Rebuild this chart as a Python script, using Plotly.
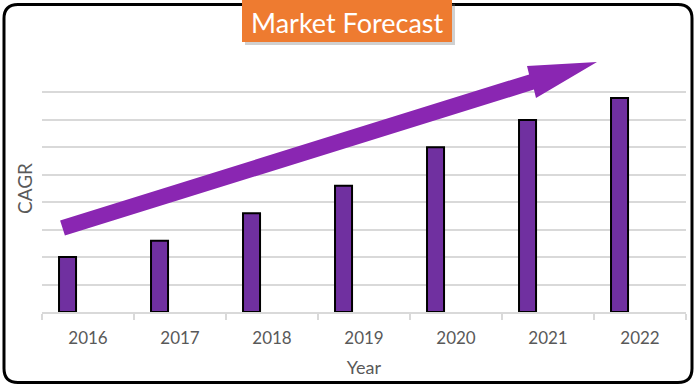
import plotly.graph_objects as go

years = ["2016", "2017", "2018", "2019", "2020", "2021", "2022"]
cagr = [2.0, 2.6, 3.6, 4.6, 6.0, 7.0, 7.8]

W, H = 697, 387
L, R, T, B = 42, 11, 65, 75
PW, PH = W - L - R, H - T - B


def px(x):
    return (x - L) / PW


def py(y):
    return (H - B - y) / PH


def path(points):
    return "M " + " L ".join(f"{px(x):.5f},{py(y):.5f}" for x, y in points) + " Z"


fig = go.Figure()
fig.add_trace(go.Bar(
    x=years, y=cagr,
    width=0.185, offset=-0.315,
    marker=dict(color="#7030A0", line=dict(color="#000000", width=2)),
    hoverinfo="x+y",
))

# arrow decoration (pixel geometry)
arrow_pts = [(60.1, 220.4), (529.1, 74.4), (527, 66), (597, 62),
             (536, 98), (533.9, 89.6), (64.9, 235.6)]

# rounded border
x0, y0, x1, y1, r = 4, 4.5, 692, 382.5, 14
border = (f"M {px(x0+r):.5f},{py(y0):.5f} L {px(x1-r):.5f},{py(y0):.5f} "
          f"Q {px(x1):.5f},{py(y0):.5f} {px(x1):.5f},{py(y0+r):.5f} "
          f"L {px(x1):.5f},{py(y1-r):.5f} "
          f"Q {px(x1):.5f},{py(y1):.5f} {px(x1-r):.5f},{py(y1):.5f} "
          f"L {px(x0+r):.5f},{py(y1):.5f} "
          f"Q {px(x0):.5f},{py(y1):.5f} {px(x0):.5f},{py(y1-r):.5f} "
          f"L {px(x0):.5f},{py(y0+r):.5f} "
          f"Q {px(x0):.5f},{py(y0):.5f} {px(x0+r):.5f},{py(y0):.5f} Z")

shapes = [
    dict(type="path", xref="paper", yref="paper", path=border,
         line=dict(color="#000000", width=3), fillcolor="rgba(0,0,0,0)", layer="above"),
    dict(type="path", xref="paper", yref="paper", path=path(arrow_pts),
         line=dict(width=0), fillcolor="#8A26B2", layer="above"),
    # title shadow
    dict(type="rect", xref="paper", yref="paper",
         x0=px(245), x1=px(455), y0=py(45), y1=py(4),
         line=dict(width=0), fillcolor="rgba(120,120,120,0.35)", layer="above"),
    # title box
    dict(type="rect", xref="paper", yref="paper",
         x0=px(242), x1=px(452), y0=py(42), y1=py(0),
         line=dict(width=0), fillcolor="#EE7B30", layer="above"),
]

fig.update_layout(
    width=W, height=H,
    margin=dict(l=L, r=R, t=T, b=B, autoexpand=False),
    paper_bgcolor="#FFFFFF", plot_bgcolor="#FFFFFF",
    showlegend=False,
    shapes=shapes,
    annotations=[dict(
        text="Market Forecast", xref="paper", yref="paper",
        x=px(347), y=py(22), xanchor="center", yanchor="middle",
        showarrow=False, font=dict(family="Lato", size=27, color="#FFFFFF"),
    )],
    xaxis=dict(
        type="category", range=[-0.5, 6.5],
        showgrid=False, showline=True, linecolor="#D9D9D9", linewidth=1.5,
        ticks="outside", tickson="boundaries", ticklen=6, tickcolor="#D9D9D9",
        tickwidth=1.5, ticklabelstandoff=10,
        tickfont=dict(family="Lato", size=17, color="#595959"),
        title=dict(text="Year", font=dict(family="Lato", size=18, color="#595959"), standoff=14),
    ),
    yaxis=dict(
        range=[0, 9], dtick=1, showticklabels=False,
        showgrid=True, gridcolor="#D9D9D9", gridwidth=1.5,
        zeroline=False,
        title=dict(text="CAGR", font=dict(family="Lato", size=19, color="#595959"), standoff=3),
    ),
)

fig.write_html("out.html", config={"displayModeBar": False},
               post_script="document.body.style.margin='0';")
